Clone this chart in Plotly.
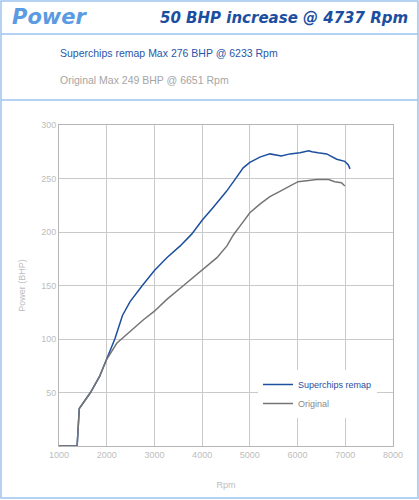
import plotly.graph_objects as go

# datos (rpm, bhp)
rpm_remap = [1000, 1380, 1425, 1660, 1850, 2000, 2170, 2330, 2490, 2730, 3000, 3260,
             3540, 3780, 4000, 4230, 4510, 4720, 4860, 5000, 5210, 5420, 5660, 5840,
             6050, 6233, 6300, 6430, 6610, 6820, 6990, 7060, 7100]
bhp_remap = [0, 0, 35, 50, 65, 81, 100, 122, 135, 149, 164, 176,
             187, 198, 211, 223, 238, 251, 260, 265, 270, 273, 271, 273,
             274, 276, 275, 274, 273, 268, 266, 263, 259]

rpm_orig = [1000, 1380, 1425, 1660, 1850, 2000, 2210, 2490, 2770, 3000, 3260, 3610,
            4000, 4310, 4520, 4650, 4800, 5000, 5210, 5420, 5630, 5840, 6010, 6190,
            6400, 6651, 6780, 6920, 6990]
bhp_orig = [0, 0, 35, 50, 65, 81, 96, 107, 118, 126, 137, 150,
            165, 176, 187, 197, 206, 218, 226, 233, 238, 243, 247, 248,
            249, 249, 247, 246, 243]

x_ticks = [1000, 2000, 3000, 4000, 5000, 6000, 7000, 8000]
y_ticks = [50, 100, 150, 200, 250, 300]

titulo = "Power"
aumento = "50 BHP increase @ 4737 Rpm"
linea_remap = "Superchips remap Max 276 BHP @ 6233 Rpm"
linea_orig = "Original Max 249 BHP @ 6651 Rpm"

azul = "#1d4f9f"
gris = "#757575"
borde = "#9dc3ee"
fuente = "Liberation Sans, Arial, sans-serif"

W, H = 419, 500
L, R, T, B = 59, 26, 125, 54
pw, ph = W - L - R, H - T - B


def px(x):
    return (x - L) / pw


def py(y):
    return (H - B - y) / ph


fig = go.Figure()
fig.add_trace(go.Scatter(x=rpm_remap, y=bhp_remap, mode="lines",
                         name='<span style="color:#1d4f9f">Superchips remap</span>',
                         line=dict(color=azul, width=1.5)))
fig.add_trace(go.Scatter(x=rpm_orig, y=bhp_orig, mode="lines",
                         name='<span style="color:#8a8a8a">Original</span>',
                         line=dict(color=gris, width=1.5)))

eje = dict(showgrid=True, gridcolor="#c9c9c9", gridwidth=1, showline=True,
           linecolor="#b5b5b5", linewidth=1, mirror=True, zeroline=False,
           tickfont=dict(family=fuente, size=9, color="#bdbdbd"), ticks="")

fig.update_xaxes(eje, range=[1000, 8000], tickvals=x_ticks,
                 title=dict(text="Rpm", font=dict(family=fuente, size=9, color="#bdbdbd"),
                            standoff=22))
fig.update_yaxes(eje, range=[0, 300], tickvals=y_ticks,
                 title=dict(text="Power (BHP)", font=dict(family=fuente, size=9, color="#bdbdbd"),
                            standoff=14))

# marco y separadores del encabezado
shapes = [
    dict(type="rect", xref="paper", yref="paper", x0=px(1), x1=px(418), y0=py(1), y1=py(498),
         line=dict(color=borde, width=1.5)),
    dict(type="line", xref="paper", yref="paper", x0=px(1), x1=px(418), y0=py(34), y1=py(34),
         line=dict(color=borde, width=1.5)),
    dict(type="line", xref="paper", yref="paper", x0=px(1), x1=px(418), y0=py(100), y1=py(100),
         line=dict(color=borde, width=1.5)),
]

annotations = [
    dict(text=titulo, x=px(10), y=py(17), xref="paper", yref="paper", xanchor="left",
         yanchor="middle", showarrow=False,
         font=dict(family="DejaVu Sans", size=21, color="#5b9be2", style="italic", weight="bold")),
    dict(text=aumento, x=px(410), y=py(18), xref="paper", yref="paper", xanchor="right",
         yanchor="middle", showarrow=False,
         font=dict(family="DejaVu Sans", size=15, color="#1c4ea0", style="italic", weight="bold")),
    dict(text=linea_remap, x=px(58), y=py(53), xref="paper", yref="paper", xanchor="left",
         yanchor="middle", showarrow=False,
         font=dict(family=fuente, size=10.5, color="#2a56a8")),
    dict(text=linea_orig, x=px(58), y=py(80), xref="paper", yref="paper", xanchor="left",
         yanchor="middle", showarrow=False,
         font=dict(family=fuente, size=10.5, color="#a5a5a5")),
]

fig.update_layout(
    width=W, height=H,
    margin=dict(l=L, r=R, t=T, b=B),
    paper_bgcolor="white", plot_bgcolor="white",
    shapes=shapes, annotations=annotations,
    showlegend=True,
    legend=dict(x=px(258), y=py(370), xanchor="left", yanchor="top",
                bgcolor="white", font=dict(family=fuente, size=9),
                itemwidth=30, tracegroupgap=0),
)

# quitar el margen del body para que la figura quede en la esquina
fig.write_html("out.html", config={"displayModeBar": False},
               post_script="document.body.style.margin='0';")
